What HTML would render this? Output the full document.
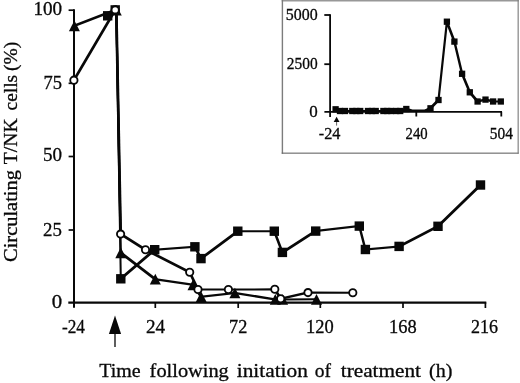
<!DOCTYPE html>
<html><head><meta charset="utf-8"><title>Figure</title>
<style>
html,body{margin:0;padding:0;background:#fff}
svg{display:block}
text{font-family:"Liberation Serif","DejaVu Serif",serif;fill:#080808;stroke:#080808;stroke-width:0.3px}
</style></head><body>
<svg width="520" height="383" viewBox="0 0 520 383">
<rect width="520" height="383" fill="#fff"/>

<rect x="281.7" y="0" width="237" height="1.5" fill="#989898"/><rect x="281.7" y="0" width="1.4" height="153.7" fill="#7c7c7c"/><rect x="281.7" y="152.6" width="237" height="1.1" fill="#666"/><rect x="517.6" y="0" width="1.1" height="153.7" fill="#787878"/>
<g stroke="#080808" stroke-width="2" fill="none">
<path d="M74,9.3V307.8"/><path d="M68.3,302.6H486.3" stroke-width="2.2"/>
<path d="M68.6,10.2H74" stroke-width="1.7"/>
<path d="M68.6,83.3H74" stroke-width="1.7"/>
<path d="M68.6,156.5H74" stroke-width="1.7"/>
<path d="M68.6,230H74" stroke-width="1.7"/>
<path d="M155.3,302.4V308" stroke-width="1.7"/>
<path d="M238.2,302.4V308" stroke-width="1.7"/>
<path d="M320.3,302.4V308" stroke-width="1.7"/>
<path d="M403,302.4V308" stroke-width="1.7"/>
<path d="M485.4,302.4V308" stroke-width="1.7"/>
</g>
<g fill="#080808" stroke="none">
<path d="M73.40,24.80L114.20,8.90L116.20,8.90L116.20,10.90L75.40,26.80L73.40,26.80ZM114.20,8.90L116.20,8.90L117.30,9.00L117.30,11.00L115.30,11.00L114.20,10.90ZM115.30,9.00L117.30,9.00L121.80,251.80L121.80,253.80L119.80,253.80L115.30,11.00ZM119.80,251.80L121.80,251.80L156.30,278.20L156.30,280.20L154.30,280.20L119.80,253.80ZM154.30,278.20L156.30,278.20L194.00,283.80L194.00,285.80L192.00,285.80L154.30,280.20ZM192.00,283.80L194.00,283.80L202.20,295.80L202.20,297.80L200.20,297.80L192.00,285.80ZM200.20,295.80L233.90,292.00L235.90,292.00L235.90,294.00L202.20,297.80L200.20,297.80ZM233.90,292.00L235.90,292.00L276.30,298.40L276.30,300.40L274.30,300.40L233.90,294.00ZM274.30,298.40L276.30,298.40L283.60,298.50L283.60,300.50L281.60,300.50L274.30,300.40ZM281.60,298.50L315.50,298.30L317.50,298.30L317.50,300.30L283.60,300.50L281.60,300.50Z"/>
<path d="M106.70,14.80L114.20,8.90L116.20,8.90L116.20,10.90L108.70,16.80L106.70,16.80ZM114.20,8.90L116.20,8.90L117.30,9.00L117.30,11.00L115.30,11.00L114.20,10.90ZM115.30,9.00L117.30,9.00L121.80,277.80L121.80,279.80L119.80,279.80L115.30,11.00ZM119.80,277.80L153.70,248.70L155.70,248.70L155.70,250.70L121.80,279.80L119.80,279.80ZM153.70,248.70L193.90,245.80L195.90,245.80L195.90,247.80L155.70,250.70L153.70,250.70ZM193.90,245.80L195.90,245.80L202.00,257.60L202.00,259.60L200.00,259.60L193.90,247.80ZM200.00,257.60L236.80,230.20L238.80,230.20L238.80,232.20L202.00,259.60L200.00,259.60ZM236.80,230.20L275.30,230.20L275.30,232.20L236.80,232.20ZM273.30,230.20L275.30,230.20L283.40,251.40L283.40,253.40L281.40,253.40L273.30,232.20ZM281.40,251.40L314.70,230.10L316.70,230.10L316.70,232.10L283.40,253.40L281.40,253.40ZM314.70,230.10L358.30,225.10L360.30,225.10L360.30,227.10L316.70,232.10L314.70,232.10ZM358.30,225.10L360.30,225.10L366.40,248.50L366.40,250.50L364.40,250.50L358.30,227.10ZM364.40,248.50L398.10,245.40L400.10,245.40L400.10,247.40L366.40,250.50L364.40,250.50ZM398.10,245.40L437.00,225.30L439.00,225.30L439.00,227.30L400.10,247.40L398.10,247.40ZM437.00,225.30L479.50,184.00L481.50,184.00L481.50,186.00L439.00,227.30L437.00,227.30Z"/>
<path d="M72.90,79.20L114.20,8.90L116.20,8.90L116.20,10.90L74.90,81.20L72.90,81.20ZM114.20,8.90L116.20,8.90L117.30,9.00L117.30,11.00L115.30,11.00L114.20,10.90ZM115.30,9.00L117.30,9.00L121.60,233.10L121.60,235.10L119.60,235.10L115.30,11.00ZM119.60,233.10L121.60,233.10L146.50,248.70L146.50,250.70L144.50,250.70L119.60,235.10ZM144.50,248.70L146.50,248.70L190.70,271.20L190.70,273.20L188.70,273.20L144.50,250.70ZM188.70,271.20L190.70,271.20L199.00,288.50L199.00,290.50L197.00,290.50L188.70,273.20ZM197.00,288.50L229.40,288.50L229.40,290.50L197.00,290.50ZM227.40,288.50L273.80,288.30L275.80,288.30L275.80,290.30L229.40,290.50L227.40,290.50ZM273.80,288.30L275.80,288.30L281.70,297.70L281.70,299.70L279.70,299.70L273.80,290.30ZM279.70,297.70L307.00,291.60L309.00,291.60L309.00,293.60L281.70,299.70L279.70,299.70ZM307.00,291.60L309.00,291.60L353.80,291.70L353.80,293.70L351.80,293.70L307.00,293.60Z"/>
<path d="M114.95,8.65L117.65,8.65L122.05,232.65L122.05,235.35L119.35,235.35L114.95,11.35Z"/>
</g>
<g fill="#080808">
<rect x="103.00" y="11.10" width="9.4" height="9.4"/>
<rect x="110.50" y="5.20" width="9.4" height="9.4"/>
<rect x="116.10" y="274.10" width="9.4" height="9.4"/>
<rect x="150.00" y="245.00" width="9.4" height="9.4"/>
<rect x="190.20" y="242.10" width="9.4" height="9.4"/>
<rect x="196.30" y="253.90" width="9.4" height="9.4"/>
<rect x="233.10" y="226.50" width="9.4" height="9.4"/>
<rect x="269.60" y="226.50" width="9.4" height="9.4"/>
<rect x="277.70" y="247.70" width="9.4" height="9.4"/>
<rect x="311.00" y="226.40" width="9.4" height="9.4"/>
<rect x="354.60" y="221.40" width="9.4" height="9.4"/>
<rect x="360.70" y="244.80" width="9.4" height="9.4"/>
<rect x="394.40" y="241.70" width="9.4" height="9.4"/>
<rect x="433.30" y="221.60" width="9.4" height="9.4"/>
<rect x="475.80" y="180.30" width="9.4" height="9.4"/>
<polygon points="74.40,20.45 68.90,31.15 79.90,31.15"/>
<polygon points="116.00,5.00 110.20,15.60 121.80,15.60"/>
<polygon points="120.80,247.45 115.30,258.15 126.30,258.15"/>
<polygon points="155.30,273.85 149.80,284.55 160.80,284.55"/>
<polygon points="193.00,279.45 187.50,290.15 198.50,290.15"/>
<polygon points="201.20,291.45 195.70,302.15 206.70,302.15"/>
<polygon points="234.90,287.65 229.40,298.35 240.40,298.35"/>
<polygon points="275.30,294.05 269.80,304.75 280.80,304.75"/>
<polygon points="282.60,294.15 277.10,304.85 288.10,304.85"/>
<polygon points="316.50,293.95 311.00,304.65 322.00,304.65"/>
</g>
<g fill="#fff" stroke="#080808" stroke-width="1.85">
<circle cx="73.9" cy="80.2" r="3.65"/>
<circle cx="115.2" cy="9.9" r="3.65"/>
<circle cx="120.6" cy="234.1" r="3.65"/>
<circle cx="145.5" cy="249.7" r="3.65"/>
<circle cx="189.7" cy="272.2" r="3.65"/>
<circle cx="198" cy="289.5" r="3.65"/>
<circle cx="228.4" cy="289.5" r="3.65"/>
<circle cx="274.8" cy="289.3" r="3.65"/>
<circle cx="280.7" cy="298.7" r="3.65"/>
<circle cx="308" cy="292.6" r="3.65"/>
<circle cx="352.8" cy="292.7" r="3.65"/>
</g>
<path d="M115,333V347" stroke="#080808" stroke-width="1.3"/><polygon points="115,315.6 108.9,334 121.1,334" fill="#080808"/>
<g>
<text x="33.4" y="15.2" font-size="18.8px" textLength="28.71" lengthAdjust="spacingAndGlyphs">100</text>
<text x="43.4" y="89.0" font-size="18.8px" textLength="18.52" lengthAdjust="spacingAndGlyphs">75</text>
<text x="43.0" y="161.3" font-size="18.8px" textLength="19.06" lengthAdjust="spacingAndGlyphs">50</text>
<text x="43.0" y="235.5" font-size="18.8px" textLength="18.87" lengthAdjust="spacingAndGlyphs">25</text>
<text x="51.8" y="307.8" font-size="18.8px" textLength="10.4" lengthAdjust="spacingAndGlyphs">0</text>
<text x="62.0" y="333.3" font-size="18.6px" textLength="23.0" lengthAdjust="spacingAndGlyphs">-24</text>
<text x="146.0" y="333.3" font-size="18.6px" textLength="19.17" lengthAdjust="spacingAndGlyphs">24</text>
<text x="229.0" y="333.3" font-size="18.6px" textLength="18.26" lengthAdjust="spacingAndGlyphs">72</text>
<text x="306.0" y="333.3" font-size="18.6px" textLength="27.66" lengthAdjust="spacingAndGlyphs">120</text>
<text x="389.0" y="333.3" font-size="18.6px" textLength="27.64" lengthAdjust="spacingAndGlyphs">168</text>
<text x="471.0" y="333.3" font-size="18.6px" textLength="27.04" lengthAdjust="spacingAndGlyphs">216</text>
<text x="99.2" y="376.6" font-size="19px" textLength="41.41" lengthAdjust="spacingAndGlyphs">Time</text>
<text x="149.6" y="376.6" font-size="19px" textLength="79.22" lengthAdjust="spacingAndGlyphs">following</text>
<text x="236.8" y="376.6" font-size="19px" textLength="71.03" lengthAdjust="spacingAndGlyphs">initation</text>
<text x="314.8" y="376.6" font-size="19px" textLength="16.25" lengthAdjust="spacingAndGlyphs">of</text>
<text x="340.8" y="376.6" font-size="19px" textLength="80.2" lengthAdjust="spacingAndGlyphs">treatment</text>
<text x="429.0" y="376.6" font-size="19px" textLength="23.35" lengthAdjust="spacingAndGlyphs">(h)</text>
<text transform="translate(16.7,262) rotate(-90)" x="0.0" y="0" font-size="18.6px" textLength="92.01" lengthAdjust="spacingAndGlyphs">Circulating</text>
<text transform="translate(16.7,262) rotate(-90)" x="97.8" y="0" font-size="18.6px" textLength="45.81" lengthAdjust="spacingAndGlyphs">T/NK</text>
<text transform="translate(16.7,262) rotate(-90)" x="151.6" y="0" font-size="18.6px" textLength="35.53" lengthAdjust="spacingAndGlyphs">cells</text>
<text transform="translate(16.7,262) rotate(-90)" x="191.0" y="0" font-size="18.6px" textLength="29.16" lengthAdjust="spacingAndGlyphs">(%)</text>
<text x="285.8" y="19.8" font-size="16px" textLength="31.85" lengthAdjust="spacingAndGlyphs">5000</text>
<text x="286.8" y="69.0" font-size="16px" textLength="30.82" lengthAdjust="spacingAndGlyphs">2500</text>
<text x="309.2" y="116.9" font-size="16px" textLength="8.48" lengthAdjust="spacingAndGlyphs">0</text>
<text x="318.8" y="139.4" font-size="15.8px" textLength="21.66" lengthAdjust="spacingAndGlyphs">-24</text>
<text x="405.6" y="139.4" font-size="15.8px" textLength="22.09" lengthAdjust="spacingAndGlyphs">240</text>
<text x="489.8" y="139.4" font-size="15.8px" textLength="23.05" lengthAdjust="spacingAndGlyphs">504</text>
</g>
<g stroke="#080808" stroke-width="1.8" fill="none">
<path d="M330.1,14.3V117"/><path d="M324.4,111.8H502"/>
<path d="M324.3,15H330.1"/>
<path d="M324.3,64.2H330.1"/>
<path d="M416.3,111.8V116.5"/>
<path d="M501.3,111.8V116.5"/>
</g>
<g fill="#080808" stroke="none"><path d="M334.60,108.30L336.60,108.30L341.00,110.00L341.00,112.00L339.00,112.00L334.60,110.30ZM339.00,110.00L346.00,110.00L346.00,112.00L339.00,112.00ZM344.00,110.00L353.30,110.00L353.30,112.00L344.00,112.00ZM351.30,110.00L357.30,110.00L357.30,112.00L351.30,112.00ZM355.30,110.00L361.20,110.00L361.20,112.00L355.30,112.00ZM359.20,110.00L369.00,110.00L369.00,112.00L359.20,112.00ZM367.00,110.00L373.00,110.00L373.00,112.00L367.00,112.00ZM371.00,110.00L376.70,110.00L376.70,112.00L371.00,112.00ZM374.70,110.00L384.40,110.00L384.40,112.00L374.70,112.00ZM382.40,110.00L388.20,110.00L388.20,112.00L382.40,112.00ZM386.20,110.00L392.00,110.00L392.00,112.00L386.20,112.00ZM390.00,110.00L397.20,110.00L397.20,112.00L390.00,112.00ZM395.20,110.00L401.20,110.00L401.20,112.00L395.20,112.00ZM399.20,110.00L405.30,108.00L407.30,108.00L407.30,110.00L401.20,112.00L399.20,112.00ZM405.30,108.00L407.30,108.00L412.50,109.60L412.50,111.60L410.50,111.60L405.30,110.00ZM410.50,109.60L426.50,109.60L426.50,111.60L410.50,111.60ZM424.50,109.60L429.50,107.30L431.50,107.30L431.50,109.30L426.50,111.60L424.50,111.60ZM429.50,107.30L437.50,99.00L439.50,99.00L439.50,101.00L431.50,109.30L429.50,109.30ZM437.50,99.00L445.90,20.70L447.90,20.70L447.90,22.70L439.50,101.00L437.50,101.00ZM445.90,20.70L447.90,20.70L455.40,40.60L455.40,42.60L453.40,42.60L445.90,22.70ZM453.40,40.60L455.40,40.60L463.10,72.80L463.10,74.80L461.10,74.80L453.40,42.60ZM461.10,72.80L463.10,72.80L470.80,91.30L470.80,93.30L468.80,93.30L461.10,74.80ZM468.80,91.30L470.80,91.30L478.60,100.50L478.60,102.50L476.60,102.50L468.80,93.30ZM476.60,100.50L484.50,98.60L486.50,98.60L486.50,100.60L478.60,102.50L476.60,102.50ZM484.50,98.60L486.50,98.60L494.10,100.50L494.10,102.50L492.10,102.50L484.50,100.60ZM492.10,100.50L501.80,100.50L501.80,102.50L492.10,102.50Z"/></g>
<g fill="#080808">
<rect x="332.45" y="106.15" width="6.3" height="6.3"/>
<rect x="336.85" y="107.85" width="6.3" height="6.3"/>
<rect x="341.85" y="107.85" width="6.3" height="6.3"/>
<rect x="349.15" y="107.85" width="6.3" height="6.3"/>
<rect x="353.15" y="107.85" width="6.3" height="6.3"/>
<rect x="357.05" y="107.85" width="6.3" height="6.3"/>
<rect x="364.85" y="107.85" width="6.3" height="6.3"/>
<rect x="368.85" y="107.85" width="6.3" height="6.3"/>
<rect x="372.55" y="107.85" width="6.3" height="6.3"/>
<rect x="380.25" y="107.85" width="6.3" height="6.3"/>
<rect x="384.05" y="107.85" width="6.3" height="6.3"/>
<rect x="387.85" y="107.85" width="6.3" height="6.3"/>
<rect x="393.05" y="107.85" width="6.3" height="6.3"/>
<rect x="397.05" y="107.85" width="6.3" height="6.3"/>
<rect x="403.15" y="105.85" width="6.3" height="6.3"/>
<rect x="427.35" y="105.15" width="6.3" height="6.3"/>
<rect x="435.35" y="96.85" width="6.3" height="6.3"/>
<rect x="443.75" y="18.55" width="6.3" height="6.3"/>
<rect x="451.25" y="38.45" width="6.3" height="6.3"/>
<rect x="458.95" y="70.65" width="6.3" height="6.3"/>
<rect x="466.65" y="89.15" width="6.3" height="6.3"/>
<rect x="474.45" y="98.35" width="6.3" height="6.3"/>
<rect x="482.35" y="96.45" width="6.3" height="6.3"/>
<rect x="489.95" y="98.35" width="6.3" height="6.3"/>
<rect x="497.65" y="98.35" width="6.3" height="6.3"/>
</g>
<path d="M336.6,121V125.6" stroke="#555" stroke-width="0.9"/><polygon points="336.6,116.7 333.7,122 339.5,122" fill="#080808"/>
</svg></body></html>
